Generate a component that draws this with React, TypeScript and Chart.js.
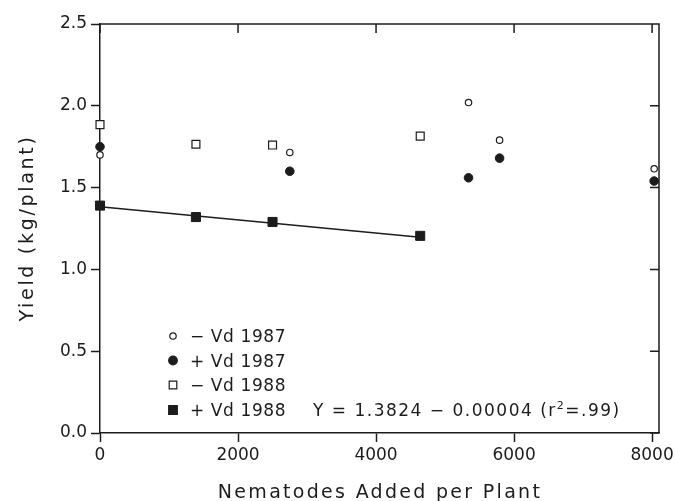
import React, { useEffect, useRef } from "react";
import { Chart, registerables } from "chart.js";

Chart.register(...registerables);

// ---- data ----
const xTickValues = [0, 2000, 4000, 6000, 8000];
const yTickValues = [0, 0.5, 1.0, 1.5, 2.0, 2.5];

const x1987 = [0, 2750, 5340, 5790, 8030];
const yMinusVd1987 = [1.70, 1.715, 2.02, 1.79, 1.615];
const yPlusVd1987 = [1.75, 1.60, 1.56, 1.68, 1.54];

const x1988 = [0, 1390, 2500, 4640];
const yMinusVd1988 = [1.885, 1.765, 1.76, 1.815];
const yPlusVd1988 = [1.39, 1.32, 1.29, 1.205];

const fitX = [0, 4640];
const fitY = [1.3824, 1.197];

const seriesLabels = ["− Vd 1987", "+ Vd 1987", "− Vd 1988", "+ Vd 1988"];
const equationMain = "Y = 1.3824 − 0.00004 (r";
const equationSup = "2";
const equationEnd = "=.99)";
const xTitle = "Nematodes Added per Plant";
const yTitle = "Yield (kg/plant)";

const INK = "#1c1c1c";
const FONT = "'DejaVu Sans', sans-serif";

const toPoints = (xs: number[], ys: number[]) => xs.map((x, i) => ({ x, y: ys[i] }));

type MarkerKind = "openCircle" | "filledCircle" | "openSquare" | "filledSquare";
const markerKinds: MarkerKind[] = ["openCircle", "filledCircle", "openSquare", "filledSquare"];

function drawMarker(ctx: CanvasRenderingContext2D, kind: MarkerKind, x: number, y: number) {
  ctx.save();
  ctx.strokeStyle = INK;
  ctx.fillStyle = INK;
  ctx.lineWidth = 1.2;
  ctx.beginPath();
  if (kind === "openCircle") {
    ctx.arc(x, y, 3.2, 0, Math.PI * 2);
    ctx.fillStyle = "#fff";
    ctx.fill();
    ctx.stroke();
  } else if (kind === "filledCircle") {
    ctx.arc(x, y, 4.3, 0, Math.PI * 2);
    ctx.fill();
    ctx.stroke();
  } else if (kind === "openSquare") {
    ctx.rect(x - 3.8, y - 3.8, 7.6, 7.6);
    ctx.fillStyle = "#fff";
    ctx.fill();
    ctx.stroke();
  } else {
    ctx.rect(x - 4.3, y - 4.3, 8.6, 8.6);
    ctx.fill();
    ctx.stroke();
  }
  ctx.restore();
}

const framePlugin = {
  id: "frameAndText",
  afterDraw(chart: any) {
    const { ctx, chartArea: ca, scales } = chart;
    ctx.save();
    // top + right frame with inward ticks
    ctx.strokeStyle = INK;
    ctx.lineWidth = 1.5;
    ctx.beginPath();
    ctx.moveTo(ca.left, ca.top);
    ctx.lineTo(ca.right, ca.top);
    ctx.lineTo(ca.right, ca.bottom);
    for (const v of xTickValues) {
      const px = scales.x.getPixelForValue(v);
      ctx.moveTo(px, ca.top);
      ctx.lineTo(px, ca.top + 9);
    }
    for (const v of yTickValues) {
      const py = scales.y.getPixelForValue(v);
      ctx.moveTo(ca.right, py);
      ctx.lineTo(ca.right - 9, py);
    }
    ctx.stroke();

    // legend inside plot
    const markerX = ca.left + 73;
    const textX = ca.left + 90;
    const rowY = [336, 360.5, 385, 410];
    ctx.fillStyle = INK;
    ctx.font = `17px ${FONT}`;
    ctx.textAlign = "left";
    ctx.textBaseline = "alphabetic";
    (ctx as any).letterSpacing = "0.6px";
    seriesLabels.forEach((label, i) => {
      drawMarker(ctx, markerKinds[i], markerX, rowY[i]);
      ctx.fillText(label, textX, rowY[i] + 6);
    });

    // regression equation
    (ctx as any).letterSpacing = "1.5px";
    let ex = ca.left + 213;
    const ey = rowY[3] + 6;
    ctx.fillText(equationMain, ex, ey);
    ex += ctx.measureText(equationMain).width;
    ctx.font = `11px ${FONT}`;
    ctx.fillText(equationSup, ex, ey - 7);
    ex += ctx.measureText(equationSup).width;
    ctx.font = `17px ${FONT}`;
    ctx.fillText(equationEnd, ex, ey);

    // axis titles
    ctx.font = `19px ${FONT}`;
    (ctx as any).letterSpacing = "2.3px";
    ctx.textAlign = "center";
    ctx.fillText(xTitle, 380, 497.5);

    (ctx as any).letterSpacing = "2.7px";
    ctx.translate(33, 228);
    ctx.rotate(-Math.PI / 2);
    ctx.fillText(yTitle, 0, 0);
    ctx.restore();
  },
};

export default function App() {
  const ref = useRef<HTMLCanvasElement>(null);

  useEffect(() => {
    if (!ref.current) return;
    const tickFont = { family: FONT, size: 17 };
    const chart = new Chart(ref.current, {
      type: "scatter",
      data: {
        datasets: [
          {
            label: seriesLabels[0],
            data: toPoints(x1987, yMinusVd1987),
            pointStyle: "circle",
            pointRadius: 3.2,
            pointBorderWidth: 1.2,
            pointBackgroundColor: "#fff",
            pointBorderColor: INK,
            clip: false,
          },
          {
            label: seriesLabels[1],
            data: toPoints(x1987, yPlusVd1987),
            pointStyle: "circle",
            pointRadius: 4.3,
            pointBorderWidth: 1,
            pointBackgroundColor: INK,
            pointBorderColor: INK,
            clip: false,
          },
          {
            label: seriesLabels[2],
            data: toPoints(x1988, yMinusVd1988),
            pointStyle: "rect",
            pointRadius: 5.6,
            pointBorderWidth: 1.2,
            pointBackgroundColor: "#fff",
            pointBorderColor: INK,
            clip: false,
          },
          {
            label: seriesLabels[3],
            data: toPoints(x1988, yPlusVd1988),
            pointStyle: "rect",
            pointRadius: 6.4,
            pointBorderWidth: 1,
            pointBackgroundColor: INK,
            pointBorderColor: INK,
            clip: false,
          },
          {
            label: "fit",
            data: toPoints(fitX, fitY),
            showLine: true,
            borderColor: INK,
            borderWidth: 1.5,
            pointRadius: 0,
            clip: false,
          } as any,
        ],
      },
      options: {
        responsive: false,
        devicePixelRatio: 1,
        animation: false,
        events: [],
        layout: { padding: { left: 0, top: 24, right: 17, bottom: 0 } },
        plugins: { legend: { display: false }, tooltip: { enabled: false } },
        scales: {
          x: {
            type: "linear",
            position: "bottom",
            min: 0,
            max: 8100,
            afterBuildTicks: (s: any) => {
              s.ticks = xTickValues.map((v) => ({ value: v }));
            },
            afterFit: (s: any) => {
              s.height = 68;
              s.paddingLeft = 0;
              s.paddingRight = 0;
            },
            ticks: {
              font: tickFont,
              color: INK,
              padding: 3,
              maxRotation: 0,
              autoSkip: false,
              callback: (v: any) => String(v),
            },
            grid: {
              drawOnChartArea: false,
              drawTicks: true,
              tickLength: 9,
              tickWidth: 1.5,
              tickColor: INK,
              color: INK,
            },
            border: { display: true, color: INK, width: 1.5 },
          },
          y: {
            type: "linear",
            position: "left",
            min: 0,
            max: 2.5,
            afterBuildTicks: (s: any) => {
              s.ticks = yTickValues.map((v) => ({ value: v }));
            },
            afterFit: (s: any) => {
              s.width = 100;
              s.paddingTop = 0;
              s.paddingBottom = 0;
            },
            ticks: {
              font: tickFont,
              color: INK,
              padding: 4,
              autoSkip: false,
              callback: (v: any) => Number(v).toFixed(1),
            },
            grid: {
              drawOnChartArea: false,
              drawTicks: true,
              tickLength: 9,
              tickWidth: 1.5,
              tickColor: INK,
              color: INK,
            },
            border: { display: true, color: INK, width: 1.5 },
          },
        },
      },
      plugins: [framePlugin],
    } as any);
    return () => chart.destroy();
  }, []);

  return (
    <div style={{ position: "fixed", left: 0, top: 0, width: 676, height: 501, background: "#fff" }}>
      <canvas ref={ref} width={676} height={501} style={{ display: "block", width: 676, height: 501 }} />
    </div>
  );
}
